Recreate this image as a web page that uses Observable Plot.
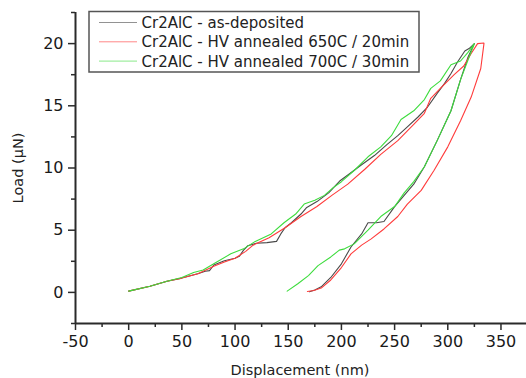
<!DOCTYPE html>
<html>
<head>
<meta charset="utf-8">
<script src="https://cdn.jsdelivr.net/npm/d3@7"></script>
<script src="https://cdn.jsdelivr.net/npm/@observablehq/plot@0.6"></script>
<style>
  html, body { margin: 0; padding: 0; background: #fff; }
  #chart { width: 526px; height: 378px; }
</style>
</head>
<body>
<div id="chart"></div>
<script>
// ---- Data ----
const seriesNames = [
  "Cr2AlC - as-deposited",
  "Cr2AlC - HV annealed 650C / 20min",
  "Cr2AlC - HV annealed 700C / 30min"
];
const seriesColors = ["#4a4a4a", "#ff3b3b", "#3ddc3d"];

// as-deposited: loading then unloading
const asDepX = [0, 20, 36, 50, 65, 72, 76, 80, 90, 100, 104, 108, 112, 120, 130, 139, 143, 147, 153, 162, 167, 177, 188, 199, 207, 218, 231, 243, 253, 262, 272, 281, 290, 297, 303, 309, 316, 320, 325,
  319, 312, 303, 290, 278, 268, 259, 250, 240, 233, 225, 219, 209, 200, 190, 181, 175, 170];
const asDepY = [0.1, 0.5, 0.9, 1.15, 1.5, 1.7, 1.75, 2.2, 2.55, 2.75, 2.9, 3.4, 3.75, 3.95, 4.0, 4.1, 4.7, 5.2, 5.6, 6.3, 6.8, 7.3, 8.0, 9.0, 9.5, 10.2, 11.0, 11.9, 12.6, 13.3, 14.1, 14.9, 16.0, 16.8, 17.6, 18.5, 19.4, 19.6, 20.0,
  18.9, 17.1, 14.6, 12.2, 10.1, 8.7, 7.8, 6.9, 5.7, 5.6, 5.6, 4.7, 3.65, 2.3, 1.2, 0.45, 0.2, 0.05];

// HV annealed 650C / 20min
const hv650X = [0, 20, 36, 50, 65, 80, 90, 100, 110, 117, 132, 147, 162, 177, 191, 206, 222, 237, 253, 268, 278, 284, 293, 306, 315, 322, 328, 334,
  334, 331, 322, 312, 300, 287, 275, 262, 253, 240, 228, 219, 209, 200, 190, 181, 174, 168];
const hv650Y = [0.1, 0.5, 0.9, 1.15, 1.5, 2.1, 2.45, 2.75, 3.3, 3.8, 4.4, 5.2, 6.1, 6.9, 7.8, 8.7, 9.9, 11.1, 12.2, 13.5, 14.4, 15.6, 16.4, 17.5, 18.2, 19.2, 20.0, 20.05,
  20.0, 18.0, 15.7, 13.8, 11.7, 9.8, 8.2, 7.1, 6.1, 5.1, 4.3, 3.8, 3.1, 2.0, 1.0, 0.35, 0.15, 0.07];

// HV annealed 700C / 30min
const hv700X = [0, 20, 36, 50, 61, 70, 80, 96, 108, 119, 134, 146, 157, 165, 175, 184, 192, 200, 212, 225, 237, 247, 256, 268, 278, 284, 293, 303, 312, 319, 325,
  320, 312, 303, 290, 278, 268, 259, 250, 237, 225, 212, 203, 198, 190, 178, 169, 159, 149];
const hv700Y = [0.1, 0.5, 0.9, 1.2, 1.6, 1.8, 2.3, 3.1, 3.5, 4.1, 4.7, 5.6, 6.3, 7.1, 7.4, 7.8, 8.4, 8.9, 9.8, 10.9, 11.7, 12.6, 13.9, 14.6, 15.5, 16.4, 17.0, 18.3, 18.6, 19.3, 20.0,
  18.9, 17.1, 14.6, 12.2, 10.1, 8.9, 8.0, 6.9, 6.1, 5.0, 3.9, 3.5, 3.4, 2.85, 2.15, 1.35, 0.7, 0.1];

const xTickValues = [-50, 0, 50, 100, 150, 200, 250, 300, 350];
const xMinorValues = [-25, 25, 75, 125, 175, 225, 275, 325];
const yTickValues = [0, 5, 10, 15, 20];
const yMinorValues = [-2.5, 2.5, 7.5, 12.5, 17.5, 22.5];
const xLabel = "Displacement (nm)";
const yLabel = "Load (\u03BCN)";

// ---- Build table ----
const rows = [];
[[asDepX, asDepY], [hv650X, hv650Y], [hv700X, hv700Y]].forEach(([xs, ys], i) => {
  xs.forEach((x, j) => rows.push({series: seriesNames[i], x, y: ys[j]}));
});

const font = "DejaVu Sans";
const axisColor = "#2a2a2a";
const fmt = d => String(d);

const plot = Plot.plot({
  width: 526,
  height: 378,
  marginLeft: 75,
  marginRight: 0,
  marginTop: 12,
  marginBottom: 55,
  style: {fontFamily: font, fontSize: "16px", color: "#1a1a1a", background: "#fff"},
  x: {domain: [-50, 374]},
  y: {domain: [-2.5, 22.5]},
  color: {domain: seriesNames, range: seriesColors},
  marks: [
    Plot.line(rows, {x: "x", y: "y", z: "series", stroke: "series", strokeWidth: 1.1}),
    Plot.axisX({ticks: xTickValues, tickFormat: fmt, tickSize: 7, tickPadding: 5, label: null, stroke: axisColor, strokeWidth: 1.5, fontSize: 16}),
    Plot.axisX({ticks: xMinorValues, tickSize: 4, tickFormat: () => "", label: null, stroke: axisColor, strokeWidth: 1.5}),
    Plot.axisY({ticks: yTickValues, tickFormat: fmt, tickSize: 7, tickPadding: 5, label: null, stroke: axisColor, strokeWidth: 1.5, fontSize: 16}),
    Plot.axisY({ticks: yMinorValues, tickSize: 4, tickFormat: () => "", label: null, stroke: axisColor, strokeWidth: 1.5}),
    Plot.ruleY([-2.5], {stroke: axisColor, strokeWidth: 2}),
    Plot.ruleX([-50], {stroke: axisColor, strokeWidth: 2})
  ]
});

document.getElementById("chart").appendChild(plot);

// ---- Axis titles and legend ----
const svg = d3.select(plot);
svg.append("text")
  .attr("x", 300).attr("y", 375)
  .attr("text-anchor", "middle")
  .attr("font-family", font).attr("font-size", 14.5)
  .attr("fill", "#222")
  .text(xLabel);
svg.append("text")
  .attr("transform", "translate(23,168) rotate(-90)")
  .attr("text-anchor", "middle")
  .attr("font-family", font).attr("font-size", 14.5)
  .attr("fill", "#222")
  .text(yLabel);

const lg = svg.append("g");
lg.append("rect")
  .attr("x", 89).attr("y", 11.5).attr("width", 330).attr("height", 60.5)
  .attr("fill", "#fff").attr("stroke", "#555").attr("stroke-width", 1.5);
seriesNames.forEach((name, i) => {
  const cy = 22.5 + i * 19.3;
  lg.append("line")
    .attr("x1", 99).attr("x2", 137).attr("y1", cy).attr("y2", cy)
    .attr("stroke", seriesColors[i]).attr("stroke-width", 1).attr("opacity", 0.6);
  lg.append("text")
    .attr("x", 141.5).attr("y", cy).attr("dy", "0.36em")
    .attr("text-anchor", "start")
    .attr("font-family", font).attr("font-size", 15)
    .attr("fill", "#222")
    .text(name);
});
</script>
</body>
</html>
